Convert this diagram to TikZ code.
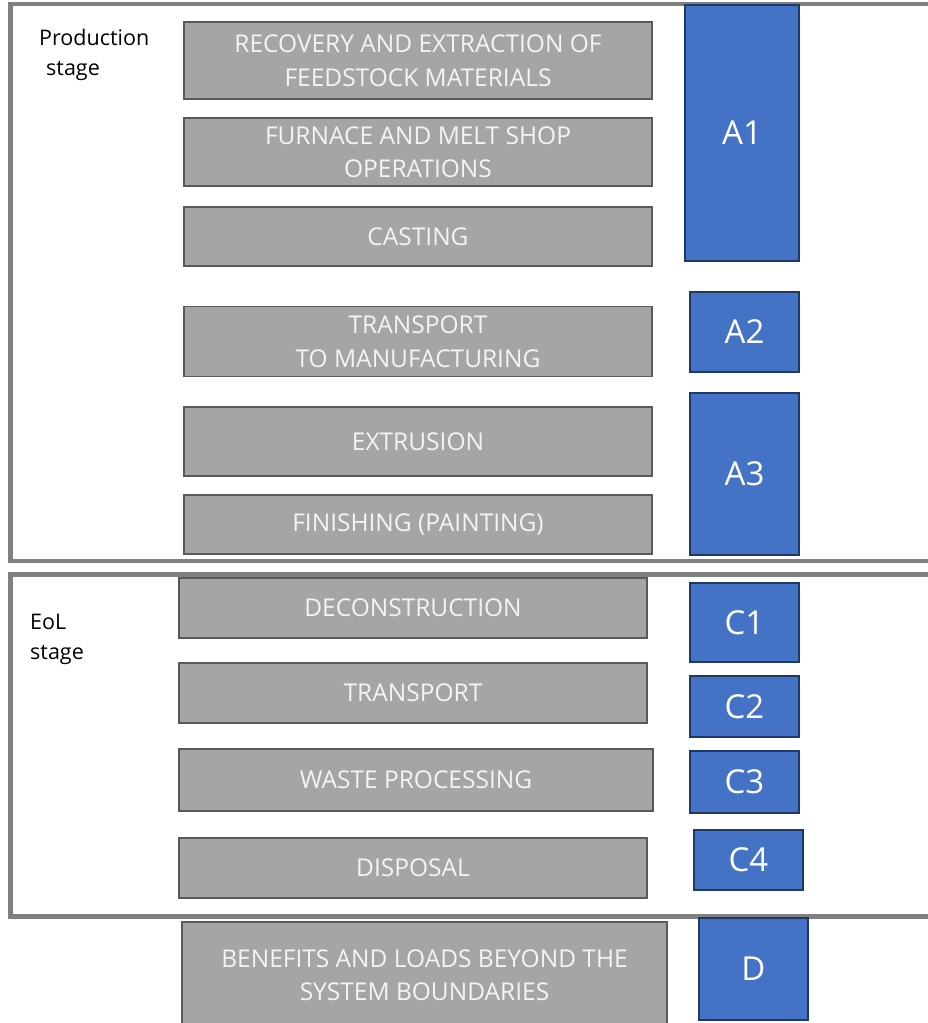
\documentclass[tikz,border=0pt]{standalone}
\usepackage{fontspec}
\setmainfont{Open Sans}
\definecolor{boxgray}{HTML}{A5A5A5}
\definecolor{boxedge}{HTML}{5A5A5A}
\definecolor{accblue}{HTML}{4472C4}
\definecolor{blueedge}{HTML}{203864}
\definecolor{framegray}{HTML}{808080}
\definecolor{txtwhite}{HTML}{F4F4F4}
\tikzset{
  gbox/.style={draw=boxedge, line width=1.5pt, fill=boxgray, text=txtwhite, align=center,
    font=\fontsize{24.5}{33.5}\selectfont, inner sep=0pt},
  bbox/.style={draw=blueedge, line width=1.5pt, fill=accblue, text=white, align=center,
    font=\fontsize{33}{38}\selectfont, inner sep=0pt, minimum width=109pt},
  frame/.style={draw=framegray, line width=4.5pt},
  stagelabel/.style={anchor=west, align=left, text=black, inner sep=0pt,
    font=\fontsize{21.5}{30}\selectfont}
}
\begin{document}
\begin{tikzpicture}[x=1pt,y=-1pt]
\useasboundingbox (0,0) rectangle (928,1023);
% frames
\draw[frame] (945,4) -- (10.5,4) -- (10.5,561) -- (945,561);
\draw[frame] (945,574.5) -- (10.5,574.5) -- (10.5,916.5) -- (945,916.5);
% stage labels
\node[stagelabel] (prod) at (39,55) {Production\\\hspace{7pt}stage};
\node[stagelabel] (eol) at (30,639) {EoL\\stage};
% gray process boxes
\node[gbox, minimum width=468pt, minimum height=77pt] (rec) at (418,60.5) {RECOVERY AND EXTRACTION OF\\FEEDSTOCK MATERIALS};
\node[gbox, minimum width=468pt, minimum height=68pt] (fur) at (418,152) {FURNACE AND MELT SHOP\\OPERATIONS};
\node[gbox, minimum width=468pt, minimum height=59pt] (cast) at (418,236.5) {CASTING};
\node[gbox, minimum width=468pt, minimum height=70pt] (tman) at (418,341.5) {TRANSPORT\\TO MANUFACTURING};
\node[gbox, minimum width=468pt, minimum height=69pt] (ext) at (418,441.5) {EXTRUSION};
\node[gbox, minimum width=468pt, minimum height=59pt] (fin) at (418,524.5) {FINISHING (PAINTING)};
\node[gbox, minimum width=468pt, minimum height=60pt] (dec) at (413,608) {DECONSTRUCTION};
\node[gbox, minimum width=468pt, minimum height=60pt] (tr) at (413,693) {TRANSPORT};
\node[gbox, minimum width=474pt, minimum height=62pt] (waste) at (416,780) {WASTE PROCESSING};
\node[gbox, minimum width=468pt, minimum height=60pt] (disp) at (413,868) {DISPOSAL};
\node[gbox, minimum width=485pt, minimum height=106pt] (ben) at (424.5,975) {BENEFITS AND LOADS BEYOND THE\\SYSTEM BOUNDARIES};
% blue module boxes
\node[bbox, minimum width=114pt, minimum height=256pt] (A1) at (742,133) {A1};
\node[bbox, minimum height=80pt] (A2) at (744.5,332) {A2};
\node[bbox, minimum height=162pt] (A3) at (744.5,474) {A3};
\node[bbox, minimum height=79pt] (C1) at (744.5,622.5) {C1};
\node[bbox, minimum height=61pt] (C2) at (744.5,706.5) {C2};
\node[bbox, minimum height=62pt] (C3) at (744.5,782) {C3};
\node[bbox, minimum height=60pt] (C4) at (748.5,860) {C4};
\node[bbox, minimum height=102pt] (D) at (753.5,969) {D};
\end{tikzpicture}
\end{document}
